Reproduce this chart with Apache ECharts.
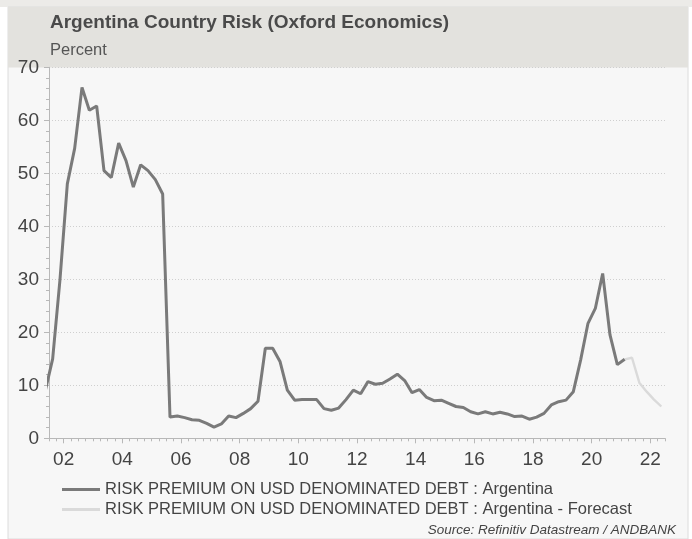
<!DOCTYPE html>
<html><head><meta charset="utf-8">
<script src="https://cdn.jsdelivr.net/npm/echarts@6/dist/echarts.min.js"></script>
<style>html,body{margin:0;padding:0;background:#fff;}#c{width:692px;height:539px;}</style>
</head><body><div id="c"></div>
<script>
const actualQuarters = ['2001Q2','2001Q3','2001Q4','2002Q1','2002Q2','2002Q3','2002Q4','2003Q1','2003Q2','2003Q3','2003Q4','2004Q1','2004Q2','2004Q3','2004Q4','2005Q1','2005Q2','2005Q3','2005Q4','2006Q1','2006Q2','2006Q3','2006Q4','2007Q1','2007Q2','2007Q3','2007Q4','2008Q1','2008Q2','2008Q3','2008Q4','2009Q1','2009Q2','2009Q3','2009Q4','2010Q1','2010Q2','2010Q3','2010Q4','2011Q1','2011Q2','2011Q3','2011Q4','2012Q1','2012Q2','2012Q3','2012Q4','2013Q1','2013Q2','2013Q3','2013Q4','2014Q1','2014Q2','2014Q3','2014Q4','2015Q1','2015Q2','2015Q3','2015Q4','2016Q1','2016Q2','2016Q3','2016Q4','2017Q1','2017Q2','2017Q3','2017Q4','2018Q1','2018Q2','2018Q3','2018Q4','2019Q1','2019Q2','2019Q3','2019Q4','2020Q1','2020Q2','2020Q3','2020Q4','2021Q1'];
const actualValues = [9,15,30,48,54.7,66.2,61.9,62.7,50.5,49.2,55.7,52.4,47.4,51.6,50.5,48.8,46.1,4.0,4.2,3.9,3.5,3.4,2.8,2.1,2.7,4.2,3.9,4.7,5.6,7.0,17.0,17.0,14.5,9.1,7.2,7.3,7.3,7.3,5.6,5.3,5.7,7.3,9.1,8.4,10.7,10.2,10.4,11.2,12.1,10.9,8.6,9.2,7.7,7.1,7.2,6.6,6.0,5.8,5.0,4.6,5.0,4.6,4.9,4.6,4.1,4.2,3.6,4.0,4.7,6.3,6.9,7.2,8.8,14.8,21.7,24.5,31.1,19.5,13.9,14.9];
const forecastQuarters = ['2021Q1','2021Q2','2021Q3','2021Q4','2022Q1','2022Q2'];
const forecastValues = [14.9,15.2,10.5,8.8,7.3,6.0];
const xLabelYears = [2002,2004,2006,2008,2010,2012,2014,2016,2018,2020,2022];
const yTicks = [0,10,20,30,40,50,60,70];
const seriesNames = ['RISK PREMIUM ON USD DENOMINATED DEBT : Argentina','RISK PREMIUM ON USD DENOMINATED DEBT : Argentina - Forecast'];
const titleText = 'Argentina Country Risk (Oxford Economics)';
const subtitleText = 'Percent';
const sourceText = 'Source: Refinitiv Datastream / ANDBANK';

function qToX(q){ const y = parseInt(q.slice(0,4),10); const n = parseInt(q.slice(5),10); return y + (n-1)/4 + 0.125; }
const actualData = actualQuarters.map((q,i)=>[qToX(q), actualValues[i]]);
const forecastData = forecastQuarters.map((q,i)=>[qToX(q), forecastValues[i]]);
const xMin = 2001.5, xMax = 2022.5;
const quarterTicks = [];
for (let v = xMin; v <= xMax + 1e-9; v += 0.25) quarterTicks.push(+v.toFixed(2));

const FONT = '"Liberation Sans", Arial, sans-serif';
const chart = echarts.init(document.getElementById('c'), null, {renderer:'canvas'});
chart.setOption({
  backgroundColor: '#ffffff',
  animation: false,
  graphic: [
    {type:'rect', shape:{x:0,y:0,width:692,height:7}, style:{fill:'#ecebe8'}, z:0},
    {type:'rect', shape:{x:8,y:7,width:680,height:532}, style:{fill:'#f7f7f7', stroke:'#dcdcdc', lineWidth:1}, z:0},
    {type:'rect', shape:{x:8,y:7,width:680,height:60.5}, style:{fill:'#e3e2de'}, z:0},
    {type:'text', left: 50, top: 13, style:{text: titleText, font: 'bold 19px ' + FONT, fill:'#4a4a4a'}, z:1},
    {type:'text', left: 50, top: 42, style:{text: subtitleText, font: '16.5px ' + FONT, fill:'#555'}, z:1},
    {type:'text', right: 16, top: 523, style:{text: sourceText, font: 'italic 13.5px ' + FONT, fill:'#444'}, z:1}
  ],
  grid: {left: 49, right: 27, top: 67.3, bottom: 100.7, containLabel: false},
  legend: {
    orient: 'vertical', left: 57, top: 476, itemWidth: 38, itemHeight: 3, itemGap: 3,
    icon: 'rect',
    textStyle: {fontFamily: FONT, fontSize: 16.5, color:'#444', lineHeight: 17},
    data: seriesNames
  },
  xAxis: [{
    type: 'value', min: xMin, max: xMax,
    axisLine: {show: true, lineStyle: {color:'#b8b8b8', width:1}},
    axisTick: {show: true, customValues: xLabelYears, length: 5, lineStyle:{color:'#b8b8b8'}},
    axisLabel: {customValues: xLabelYears, formatter: v => String(Math.round(v) % 100).padStart(2,'0'), fontFamily: FONT, fontSize: 19, color:'#444', margin: 12},
    splitLine: {show:false}
  },{
    type: 'value', min: xMin, max: xMax, position:'bottom',
    axisLine: {show: false},
    axisTick: {show: true, customValues: quarterTicks, length: 3, lineStyle:{color:'#b8b8b8'}},
    axisLabel: {show:false},
    splitLine: {show:false}
  }],
  yAxis: {
    type: 'value', min: 0, max: 70, interval: 10,
    axisLine: {show: true, lineStyle: {color:'#b8b8b8', width:1}},
    axisTick: {show: true, length: 5, lineStyle:{color:'#b8b8b8'}},
    minorTick: {show: true, splitNumber: 5, length: 3, lineStyle:{color:'#b8b8b8'}},
    axisLabel: {fontFamily: FONT, fontSize: 19, color:'#444', margin: 10, formatter: v => yTicks.includes(v) ? String(v) : ''},
    splitLine: {show: true, lineStyle: {color:'#cfcfcf', type:[1,2], width:1}}
  },
  series: [
    {name: seriesNames[0], type:'line', data: actualData, showSymbol:false, symbol:'none', clip:true,
     lineStyle:{color:'#7a7a7a', width:3}, itemStyle:{color:'#7a7a7a'}, z:3},
    {name: seriesNames[1], type:'line', data: forecastData, showSymbol:false, symbol:'none', clip:true,
     lineStyle:{color:'#dadada', width:2.4}, itemStyle:{color:'#dadada'}, z:2}
  ]
});
</script></body></html>
